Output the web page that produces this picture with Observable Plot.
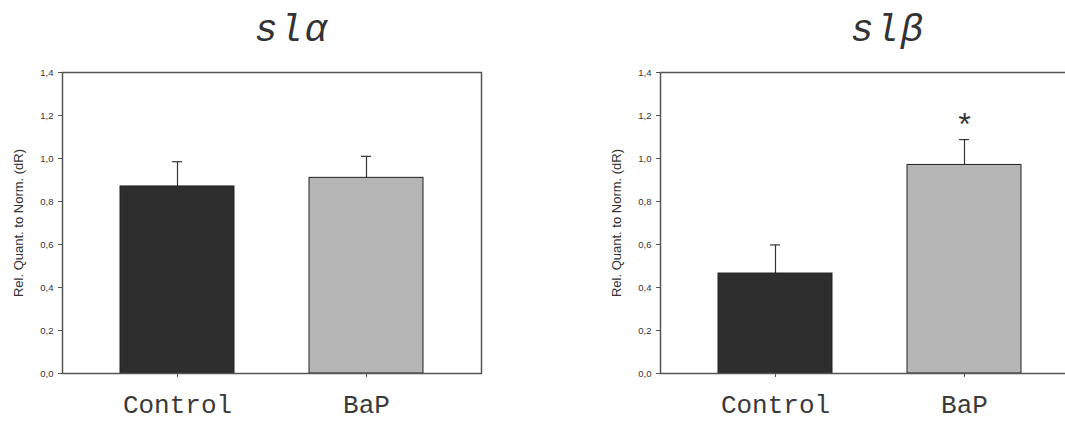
<!DOCTYPE html>
<html>
<head>
<meta charset="utf-8">
<script src="https://cdn.jsdelivr.net/npm/d3@7"></script>
<script src="https://cdn.jsdelivr.net/npm/@observablehq/plot@0.6"></script>
<style>
  html, body { margin: 0; padding: 0; background: #fff; overflow: hidden; }
  #wrap { position: relative; width: 1065px; height: 421px; overflow: hidden; }
  .panel { position: absolute; top: 0; }
  .panel svg { max-width: none !important; }
  .title { position: absolute; top: 12px; font-family: "Liberation Mono", monospace; font-style: italic; font-size: 38px; color: #333; transform: translateX(-50%); white-space: nowrap; line-height: 1; letter-spacing: 2px; }
</style>
</head>
<body>
<div id="wrap"></div>
<script>
const categories = ["Control", "BaP"];
const panelTitles = ["slα", "slβ"];
const slAlphaMean = [0.87, 0.91];
const slAlphaErr = [0.115, 0.10];
const slBetaMean = [0.465, 0.97];
const slBetaErr = [0.133, 0.118];
const slBetaSig = ["", "*"];
const slAlphaSig = ["", ""];
const yTicks = [0, 0.2, 0.4, 0.6, 0.8, 1.0, 1.2, 1.4];
const yLabel = "Rel. Quant. to Norm. (dR)";
const barColors = ["#2e2e2e", "#b5b5b5"];

function rows(means, errs, sig) {
  return categories.map((c, i) => ({cat: c, v: means[i], top: means[i] + errs[i], sig: sig[i]}));
}

function panel(data, marginLeft, marginRight, width) {
  return Plot.plot({
    width, height: 421,
    marginLeft, marginRight, marginTop: 72, marginBottom: 48,
    style: {fontFamily: "'Liberation Sans', Arial, sans-serif", fontSize: "9.5px", color: "#333", background: "white", maxWidth: "none"},
    x: {domain: categories, paddingInner: 0.396, paddingOuter: 0.3035, label: null},
    y: {domain: [0, 1.4], label: null},
    color: {domain: categories, range: barColors},
    marks: [
      Plot.ruleX(data, {x: "cat", y1: "v", y2: "top", stroke: "#333", strokeWidth: 1.2}),
      Plot.tickY(data, {x: "cat", y: "top", stroke: "#333", strokeWidth: 1.2, insetLeft: 52, insetRight: 52}),
      Plot.barY(data, {x: "cat", y: "v", fill: "cat", stroke: "#222", strokeWidth: 1}),
      Plot.text(data, {x: "cat", y: "top", text: "sig", dy: -14, fontSize: 32, fontFamily: "'Liberation Mono', monospace", fill: "#333"}),
      Plot.frame({stroke: "#555", strokeWidth: 1.5}),
      Plot.axisY({ticks: yTicks, tickFormat: d => d.toFixed(1).replace(".", ","), tickSize: 4, tickPadding: 5, label: null, stroke: "#555"}),
      Plot.axisX({tickSize: 4, tickPadding: 17, fontSize: 26, fontFamily: "'Liberation Mono', monospace", fill: "#3a3a3a", label: null, stroke: "#555"}),
      Plot.text([yLabel], {frameAnchor: "left", rotate: -90, textAnchor: "middle", dx: -44, fontSize: 13, fill: "#333"})
    ]
  });
}

const wrap = document.getElementById("wrap");
const specs = [
  {data: rows(slAlphaMean, slAlphaErr, slAlphaSig), left: 0, ml: 62, mr: 51, w: 532, tx: 292},
  {data: rows(slBetaMean, slBetaErr, slBetaSig), left: 532, ml: 128, mr: 0, w: 547, tx: 888}
];
specs.forEach((s, i) => {
  const div = document.createElement("div");
  div.className = "panel";
  div.style.left = s.left + "px";
  div.style.width = s.w + "px";
  div.appendChild(panel(s.data, s.ml, s.mr, s.w));
  wrap.appendChild(div);
  const t = document.createElement("div");
  t.className = "title";
  t.style.left = s.tx + "px";
  t.textContent = panelTitles[i];
  wrap.appendChild(t);
});
</script>
</body>
</html>
